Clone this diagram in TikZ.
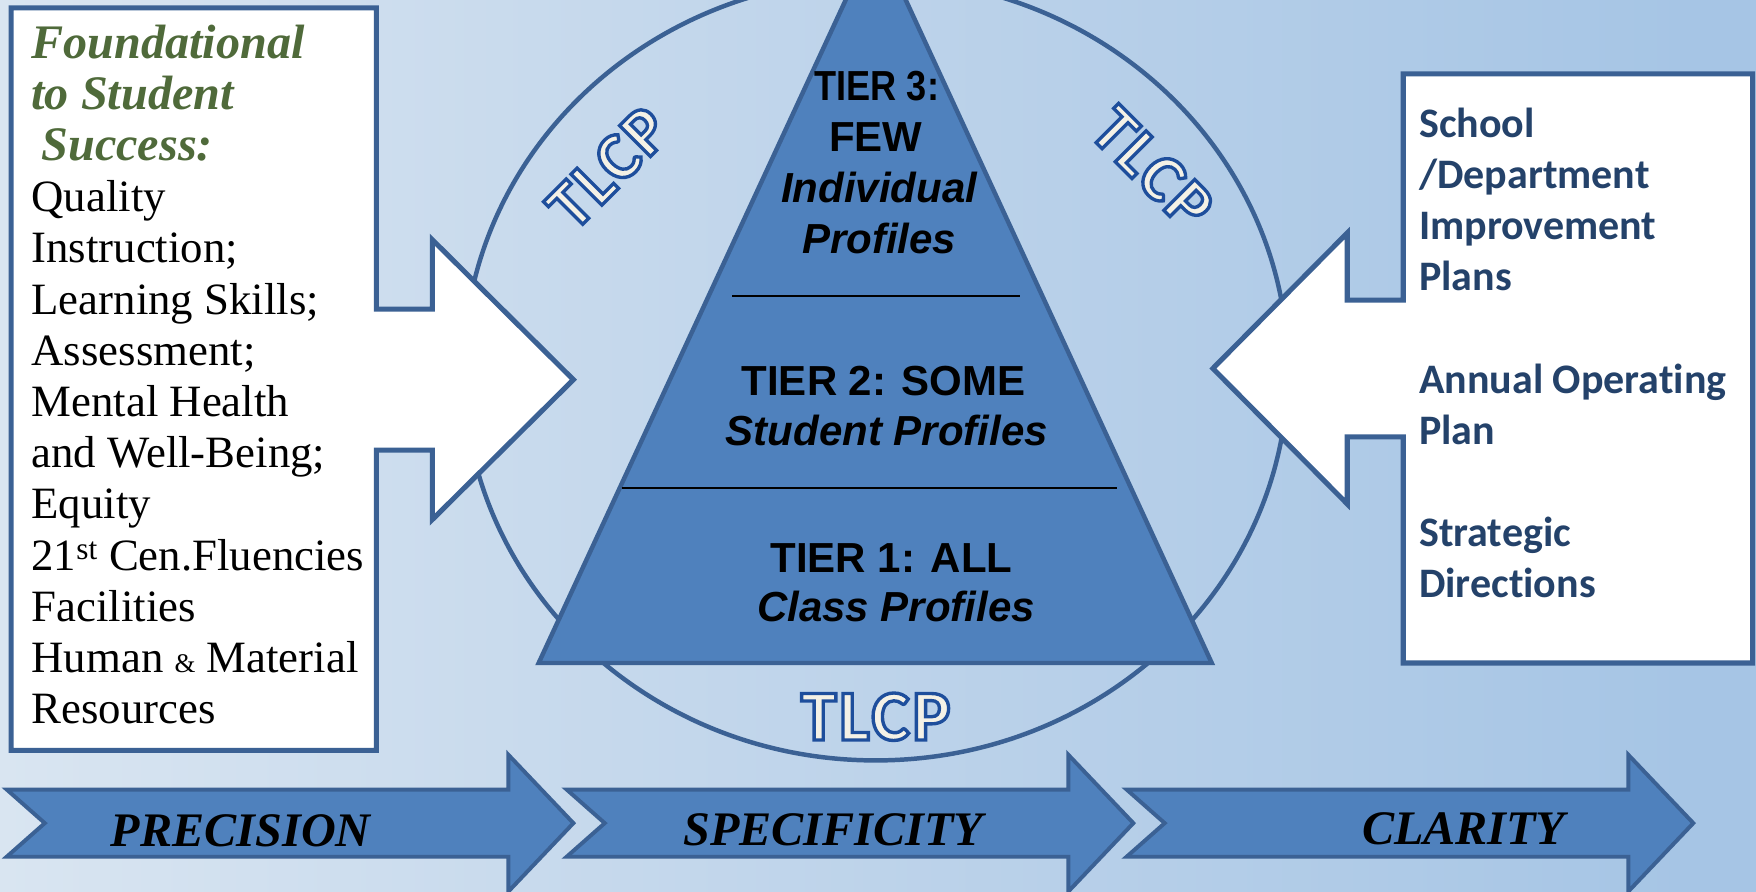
\documentclass[tikz,border=0pt]{standalone}
\usepackage{fontspec}
\usepackage{graphicx}
\setmainfont{Liberation Serif}
\newfontfamily\arialf{Liberation Sans}
\newfontfamily\calf[Ligatures=CommonOff]{Carlito}
\newfontfamily\calsp[LetterSpace=4]{Carlito}
\definecolor{bgA}{HTML}{EEF3F9}
\definecolor{bgB}{HTML}{D9E5F1}
\definecolor{bgC}{HTML}{BDD3EA}
\definecolor{bgD}{HTML}{A6C5E5}
\definecolor{bgE}{HTML}{A8C8E8}
\definecolor{bgF}{HTML}{B2D0EE}
\definecolor{fillB}{HTML}{4F81BD}
\definecolor{lineB}{HTML}{3B6194}
\definecolor{navy}{HTML}{24426A}
\definecolor{olive}{HTML}{4F6A3A}
\definecolor{cream}{HTML}{F4F1E6}
\pgfdeclarehorizontalshading{bgshade}{100bp}{color(0bp)=(bgA); color(25bp)=(bgB); color(50bp)=(bgC); color(73bp)=(bgD); color(90bp)=(bgE); color(100bp)=(bgF)}
\newcommand\outlinedword[1]{\special{pdf:literal direct 2 Tr 3 w 0.118 0.306 0.612 RG}#1\special{pdf:literal direct 0 Tr}}
\tikzset{
  box/.style={draw=lineB, line width=4.5pt, fill=white, line join=miter},
  ring/.style={draw=lineB, line width=4pt},
  tri/.style={draw=lineB, line width=4pt, fill=fillB, line join=miter},
  sep/.style={draw=black, line width=1.8pt},
  chev/.style={draw=lineB, line width=3.5pt, fill=fillB, line join=miter},
  lefttxt/.style={anchor=base west, inner sep=0pt, font=\fontsize{40}{47}\selectfont},
  headtxt/.style={anchor=base west, inner sep=0pt, text=olive, font=\bfseries\itshape\fontsize{43}{50}\selectfont},
  righttxt/.style={anchor=base west, inner sep=0pt, text=navy, font=\calf\bfseries\fontsize{37.5}{45}\selectfont},
  tiertxt/.style={anchor=base, inner sep=0pt, font=\arialf\bfseries\fontsize{37.5}{45}\selectfont},
  tierit/.style={anchor=base, inner sep=0pt, font=\arialf\bfseries\itshape\fontsize{37.5}{45}\selectfont},
  bartxt/.style={anchor=base, inner sep=0pt, font=\bfseries\itshape\fontsize{43}{50}\selectfont},
  tlcplabel/.style={text=cream, inner sep=0pt, font=\calsp\bfseries\fontsize{#1}{#1}\selectfont}
}
\begin{document}
\begin{tikzpicture}[x=1pt,y=-1pt]
\useasboundingbox (0,0) rectangle (1568,796);
\clip (0,0) rectangle (1568,796);
\shade[shading=bgshade] (0,0) rectangle (1568,796);
% circle
\draw[ring] (782,330) ellipse[x radius=368, y radius=349];
% pyramid
\draw[tri] (782,-58) -- (1082,592) -- (481,592) -- cycle;
\draw[sep] (654,264) -- (911,264);
\draw[sep] (555,436) -- (997,436);
% left box with arrow
\draw[box] (10,7) -- (336,7) -- (336,276) -- (386,276) -- (386,214) -- (512,339) -- (386,464) -- (386,402) -- (336,402) -- (336,670) -- (10,670) -- cycle;
% right box with arrow
\draw[box] (1565,66) -- (1253,66) -- (1253,268) -- (1203,268) -- (1203,208) -- (1083,329) -- (1203,450) -- (1203,390) -- (1253,390) -- (1253,592) -- (1565,592) -- cycle;
% left texts
\node[headtxt] (h1) at (28,52) {Foundational};
\node[headtxt] (h2) at (28,97.7) {to Student};
\node[headtxt] (h3) at (37,143.4) {Success:};
\node[lefttxt] (l1) at (28,189.1) {Quality};
\node[lefttxt] (l2) at (28,234.8) {Instruction;};
\node[lefttxt] (l3) at (28,280.5) {Learning Skills;};
\node[lefttxt] (l4) at (28,326.2) {Assessment;};
\node[lefttxt] (l5) at (28,371.9) {Mental Health};
\node[lefttxt] (l6) at (28,417.6) {and Well-Being;};
\node[lefttxt] (l7) at (28,463.3) {Equity};
\node[lefttxt] (l8) at (28,509) {21\textsuperscript{st} Cen.Fluencies};
\node[lefttxt] (l9) at (28,554.7) {Facilities};
\node[lefttxt] (l10) at (28,600.4) {Human {\fontsize{24}{24}\selectfont\&} Material};
\node[lefttxt] (l11) at (28,646.1) {Resources};
% right texts
\node[righttxt] (r1) at (1267,123) {School};
\node[righttxt] (r2) at (1267,168.6) {/Department};
\node[righttxt] (r3) at (1267,214.2) {Improvement};
\node[righttxt] (r4) at (1267,259.8) {Plans};
\node[righttxt] (r5) at (1267,351) {Annual Operating};
\node[righttxt] (r6) at (1267,396.6) {Plan};
\node[righttxt] (r7) at (1267,487.8) {Strategic};
\node[righttxt] (r8) at (1267,533.4) {Directions};
% tier texts
\node[tiertxt] (t3a) at (783,90) {\scalebox{0.86}[1]{TIER 3:}};
\node[tiertxt] (t3b) at (782,135.5) {FEW};
\node[tierit] (t3c) at (785,181) {Individual};
\node[tierit] (t3d) at (785,226) {Profiles};
\node[tiertxt] (t2a) at (789,353) {TIER 2: SOME};
\node[tierit] (t2b) at (792,398) {Student Profiles};
\node[tiertxt] (t1a) at (796,511) {TIER 1: ALL};
\node[tierit] (t1b) at (800,555) {Class Profiles};
% TLCP labels
\node[tlcplabel=60, rotate=45] (tlcpA) at (543,150) {\outlinedword{TLCP}};
\node[tlcplabel=60, rotate=-45] (tlcpB) at (1029,150) {\outlinedword{TLCP}};
\node[tlcplabel=64] (tlcpC) at (782,640) {\outlinedword{TLCP}};
% bottom chevron arrows
\foreach \xa in {6,506,1006}
  \draw[chev] (\xa,705) -- ({\xa+448},705) -- ({\xa+448},674) -- ({\xa+506},735) -- ({\xa+448},796) -- ({\xa+448},765) -- (\xa,765) -- ({\xa+34},735) -- cycle;
\node[bartxt] (b1) at (215,756) {PRECISION};
\node[bartxt] (b2) at (744,755) {SPECIFICITY};
\node[bartxt] (b3) at (1307,754) {CLARITY};
\end{tikzpicture}
\end{document}
